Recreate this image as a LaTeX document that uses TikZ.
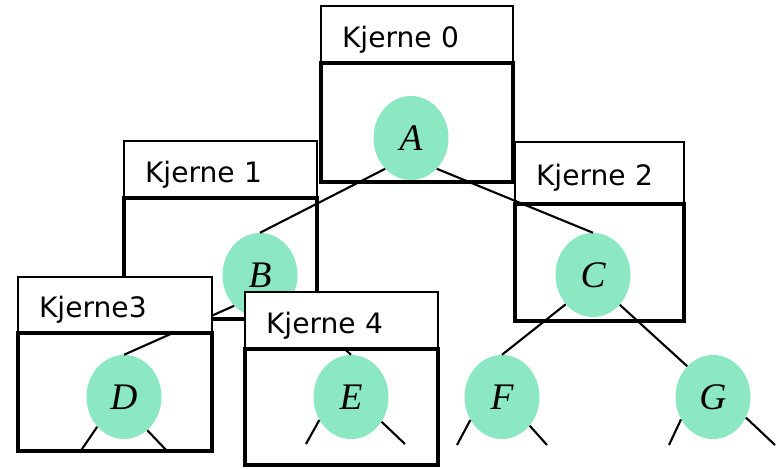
\documentclass[tikz,border=0pt]{standalone}
\usepackage{fontspec}
\usepackage{tikz}
\usetikzlibrary{positioning,shapes.geometric}
\newfontfamily\labfont{DejaVu Sans}
\newfontfamily\letfont{Liberation Serif}
\definecolor{mint}{HTML}{8BE8C2}

\begin{document}
\begin{tikzpicture}[x=0.03cm,y=-0.03cm,
  lab/.style={draw,line width=1.9pt,fill=white,anchor=north west,outer sep=0pt,
              minimum height=1.71cm,inner xsep=0.63cm,align=left,
              font=\labfont\fontsize{24}{28}\selectfont,text height=22pt,text depth=0pt},
  kbox/.style={draw,line width=3.8pt,outer sep=0pt},
  vertex/.style={ellipse,fill=mint,minimum width=2.25cm,minimum height=2.52cm,inner sep=0pt,
                 font=\letfont\itshape\fontsize{32}{38}\selectfont},
  link/.style={line width=1.8pt}]
\useasboundingbox (0,0) rectangle (777,468);
% top level cores
\node[lab,text width=4.50cm] (k0) at (321,6) {Kjerne 0};
\node[kbox,minimum width=5.76cm,minimum height=3.57cm,below=0pt of k0] (k0b) {};
\node[lab,text width=4.53cm] (k1) at (124,141) {Kjerne 1};
\node[kbox,minimum width=5.79cm,minimum height=3.63cm,below=0pt of k1] (k1b) {};
\node[lab,text width=3.81cm,minimum height=1.86cm] (k2) at (515,142) {Kjerne 2};
\node[kbox,minimum width=5.07cm,minimum height=3.51cm,below=0pt of k2] (k2b) {};
% tree
\node[vertex] (A) at (411,138) {A};
\node[vertex] (B) at (260,275) {B};
\node[vertex] (C) at (593,275) {C};
\node[vertex] (D) at (124,397) {D};
\node[vertex] (E) at (351,397) {E};
\node[vertex] (F) at (502,397) {F};
\node[vertex] (G) at (713,397) {G};
\coordinate (d1) at (80,452);  \coordinate (d2) at (168,452);
\coordinate (e1) at (306,444); \coordinate (e2) at (405,444);
\coordinate (f1) at (457,445); \coordinate (f2) at (547,445);
\coordinate (g1) at (669,445); \coordinate (g2) at (775,445);
\draw[link] (A.-130) -- (B.north);
\draw[link] (A.-50) -- (C.north);
\draw[link] (B.-130) -- (D.north);
\draw[link] (B.-40) -- (E.north);
\draw[link] (C.-133) -- (F.north);
\draw[link] (C.-48) -- (G.130);
\draw[link] (D.-132) -- (d1);
\draw[link] (D.-55) -- (d2);
\draw[link] (E.-144) -- (e1);
\draw[link] (E.-39) -- (e2);
\draw[link] (F.-144) -- (f1);
\draw[link] (F.-46) -- (f2);
\draw[link] (G.-145) -- (g1);
\draw[link] (G.-32) -- (g2);
% lower cores
\node[lab,text width=4.56cm,minimum height=1.68cm] (k3) at (18,277) {Kjerne3};
\node[kbox,minimum width=5.82cm,minimum height=3.54cm,below=0pt of k3] (k3b) {};
\node[lab,text width=4.53cm] (k4) at (245,292) {Kjerne 4};
\node[kbox,minimum width=5.79cm,minimum height=3.48cm,below=0pt of k4] (k4b) {};
\end{tikzpicture}
\end{document}
